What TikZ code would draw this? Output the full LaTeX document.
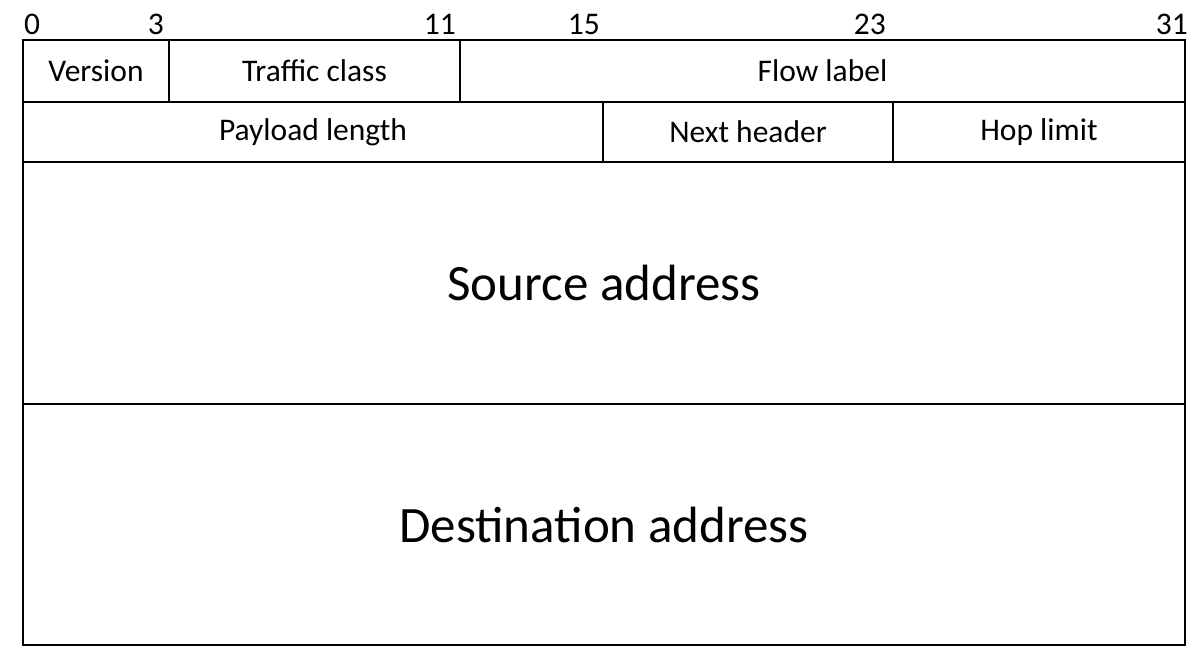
\documentclass[tikz,border=0pt]{standalone}
\usepackage{fontspec}
\setmainfont{Carlito}
\begin{document}
\begin{tikzpicture}[x=1pt,y=1pt,
  field/.style={draw, line width=2.4pt, inner sep=0pt, anchor=center, font=\fontsize{31.5}{37}\selectfont},
  bigfield/.style={field, font=\fontsize{51}{60}\selectfont},
  bitnum/.style={inner sep=0pt, font=\fontsize{31.5}{37}\selectfont}]
\useasboundingbox (0,0) rectangle (1200,660);
% row 1
\node[field, minimum width=146pt, minimum height=62pt] (ver) at (96,589) {Version};
\node[field, minimum width=291pt, minimum height=62pt] (tc) at (314.5,589) {Traffic class};
\node[field, minimum width=725pt, minimum height=62pt] (fl) at (822.5,589) {Flow label};
% row 2
\node[field, minimum width=580pt, minimum height=60pt] (pl) at (313,528) {Payload length};
\node[field, minimum width=290pt, minimum height=60pt] (nh) at (748,528) {Next header};
\node[field, minimum width=292pt, minimum height=60pt] (hl) at (1039,528) {Hop limit};
% addresses
\node[bigfield, minimum width=1162pt, minimum height=242pt] (src) at (604,377) {Source address};
\node[bigfield, minimum width=1162pt, minimum height=241pt] (dst) at (604,135.5) {Destination address};
% bit numbers
\node[bitnum, anchor=base west] (b0) at (24,625) {0};
\node[bitnum, anchor=base east] (b3) at (164,625) {3};
\node[bitnum, anchor=base east] (b11) at (456,625) {11};
\node[bitnum, anchor=base east] (b15) at (600,625) {15};
\node[bitnum, anchor=base east] (b23) at (886,625) {23};
\node[bitnum, anchor=base east] (b31) at (1188,625) {31};
\end{tikzpicture}
\end{document}
